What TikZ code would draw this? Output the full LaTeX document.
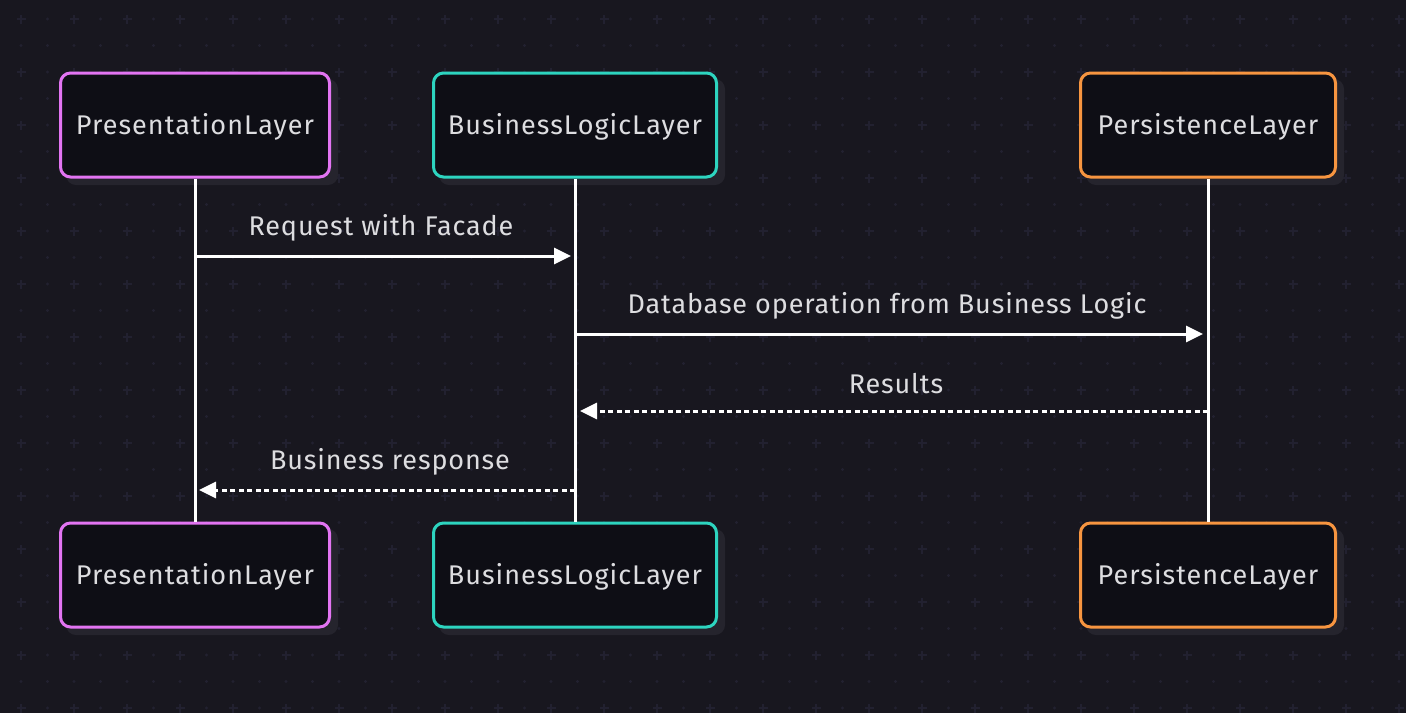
\documentclass[tikz,border=0pt]{standalone}
\usepackage{fontspec}
\setmainfont{Fira Sans}
\newfontfamily\boxfont[LetterSpace=3.8]{Fira Sans}
\newfontfamily\lblfont[LetterSpace=3.2]{Fira Sans}
\usetikzlibrary{arrows.meta}
\definecolor{bg}{HTML}{18171F}
\definecolor{boxfill}{HTML}{0E0E15}
\definecolor{shadowc}{HTML}{25242D}
\definecolor{gridc}{HTML}{222130}
\definecolor{pinkc}{HTML}{E274F2}
\definecolor{tealc}{HTML}{2DD4BF}
\definecolor{orangec}{HTML}{F79540}
\definecolor{txt}{HTML}{DDDDE0}
\tikzset{
  actor/.style={draw=#1, line width=3pt, rounded corners=10pt, fill=boxfill,
    minimum height=104pt, text=txt, font=\boxfont\fontsize{27}{30}\selectfont,
    inner sep=0pt, text height=24pt, text depth=6pt},
  lifeline/.style={draw=white, line width=3pt},
  msg/.style={draw=white, line width=3pt, -{Triangle[length=17pt,width=16pt]}},
  reply/.style={msg, dash pattern=on 5pt off 3.5pt},
  lbl/.style={text=txt, font=\lblfont\fontsize{27}{30}\selectfont, inner sep=0pt},
}
\begin{document}
\begin{tikzpicture}[x=1pt,y=-1pt]
\fill[bg] (0,0) rectangle (1406,713);
\useasboundingbox (0,0) rectangle (1406,713);
% grid pattern
\foreach \i in {0,...,53}{
  \foreach \j in {0,...,27}{
    \pgfmathsetmacro{\px}{21+26.5*\i}
    \pgfmathsetmacro{\py}{19+26.5*\j}
    \pgfmathtruncatemacro{\cr}{(mod(\i,2)==0 && mod(\j,2)==0) ? 1 : 0}
    \ifnum\cr=1
      \draw[gridc, line width=2pt] (\px-4.5,\py) -- (\px+4.5,\py) (\px,\py-4.5) -- (\px,\py+4.5);
    \else
      \fill[gridc] (\px,\py) circle (1.6);
    \fi
  }
}
% shadows
\foreach \x/\w in {59/272, 432/286, 1079/258}{
  \foreach \y in {72,522}{
    \fill[shadowc, rounded corners=10pt] (\x+7,\y+7) rectangle (\x+\w+7,\y+106+7);
  }
}
\node[actor=pinkc, minimum width=269pt] (pt) at (195,125) {PresentationLayer};
\node[actor=tealc, minimum width=283pt] (bt) at (575,125) {BusinessLogicLayer};
\node[actor=orangec, minimum width=255pt] (st) at (1208,125) {PersistenceLayer};
\node[actor=pinkc, minimum width=269pt] (pb) at (195,575) {PresentationLayer};
\node[actor=tealc, minimum width=283pt] (bb) at (575,575) {BusinessLogicLayer};
\node[actor=orangec, minimum width=255pt] (sb) at (1208,575) {PersistenceLayer};
% lifelines
\draw[lifeline] (pt.south) -- (pb.north);
\draw[lifeline] (bt.south) -- (bb.north);
\draw[lifeline] (st.south) -- (sb.north);
% message anchors
\coordinate (m1s) at (195,256); \coordinate (m1e) at (571,256);
\coordinate (m2s) at (575,334); \coordinate (m2e) at (1203,334);
\coordinate (m3s) at (1208,411); \coordinate (m3e) at (580,411);
\coordinate (m4s) at (575,490); \coordinate (m4e) at (199,490);
\draw[msg] (m1s) -- (m1e);
\draw[msg] (m2s) -- (m2e);
\draw[reply] (m3s) -- (m3e);
\draw[reply] (m4s) -- (m4e);
\node[lbl] (l1) at (381,228) {Request with Facade};
\node[lbl] (l2) at (887,306) {Database operation from Business Logic};
\node[lbl] (l3) at (896,384) {Results};
\node[lbl] (l4) at (390,462) {Business response};
\end{tikzpicture}
\end{document}
